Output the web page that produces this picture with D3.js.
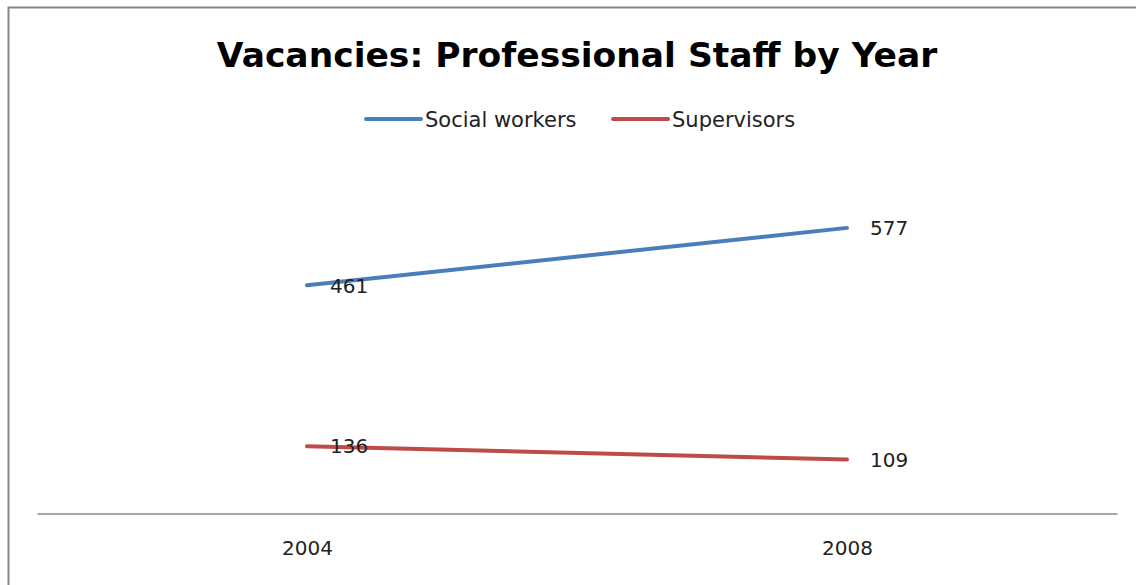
<!DOCTYPE html>
<html>
<head>
<meta charset="utf-8">
<script src="https://cdn.jsdelivr.net/npm/d3@7/dist/d3.min.js"></script>
<style>
  html, body { margin: 0; padding: 0; background: #fff; }
  svg { display: block; }
  text { font-family: "DejaVu Sans", "Open Sans", sans-serif; }
</style>
</head>
<body>
<svg id="chart" width="1136" height="585"></svg>
<script>
// Vacancies by year for two staff groups
const years = ["2004", "2008"];
const socialWorkers = [461, 577];
const supervisors = [136, 109];
const seriesNames = ["Social workers", "Supervisors"];
const seriesColors = ["#4a7ebb", "#be4b48"];
const titleText = "Vacancies: Professional Staff by Year";

const series = [
  { name: seriesNames[0], color: seriesColors[0], values: socialWorkers },
  { name: seriesNames[1], color: seriesColors[1], values: supervisors }
];

const svg = d3.select("#chart");

// outer chart frame (open at right and bottom edges)
svg.append("path")
  .attr("d", "M8.5,585 L8.5,7.5 L1136,7.5")
  .attr("fill", "none")
  .attr("stroke", "#878787")
  .attr("stroke-width", 2);

// title
svg.append("text")
  .attr("x", 577)
  .attr("y", 67)
  .attr("text-anchor", "middle")
  .attr("font-size", 34.5)
  .attr("font-weight", "bold")
  .attr("fill", "#000")
  .text(titleText);

// plot area
const plot = { left: 37, right: 1117, top: 167, bottom: 513.5 };

const x = d3.scalePoint()
  .domain(years)
  .range([plot.left, plot.right])
  .padding(0.5);

const y = d3.scaleLinear()
  .domain([0, 700])
  .range([plot.bottom, plot.top]);

// category axis
const xAxis = d3.axisBottom(x).tickSize(0).tickPadding(27);
const gx = svg.append("g")
  .attr("transform", `translate(0,${plot.bottom})`)
  .call(xAxis);
gx.select(".domain").attr("stroke", "#a6a6a6").attr("stroke-width", 2);
gx.selectAll(".tick text")
  .attr("font-size", 20)
  .attr("fill", "#222")
  .style("font-family", "'DejaVu Sans', sans-serif");

// series lines
const line = d3.line()
  .x((d, i) => x(years[i]))
  .y(d => y(d));

series.forEach(s => {
  svg.append("path")
    .datum(s.values)
    .attr("d", line)
    .attr("fill", "none")
    .attr("stroke", s.color)
    .attr("stroke-width", 4)
    .attr("stroke-linecap", "round");
});

// value labels to the right of each point
series.forEach(s => {
  svg.selectAll(null)
    .data(s.values)
    .enter()
    .append("text")
    .attr("x", (d, i) => x(years[i]) + 23)
    .attr("y", d => y(d))
    .attr("dy", "0.36em")
    .attr("font-size", 20)
    .attr("fill", "#222")
    .text(d => d);
});

// legend
const legendItems = [
  { name: seriesNames[0], color: seriesColors[0], x0: 366 },
  { name: seriesNames[1], color: seriesColors[1], x0: 613 }
];
const legendY = 119;
legendItems.forEach(item => {
  svg.append("line")
    .attr("x1", item.x0).attr("x2", item.x0 + 55)
    .attr("y1", legendY).attr("y2", legendY)
    .attr("stroke", item.color)
    .attr("stroke-width", 4)
    .attr("stroke-linecap", "round");
  svg.append("text")
    .attr("x", item.x0 + 59)
    .attr("y", legendY)
    .attr("dy", "0.36em")
    .attr("font-size", 21)
    .attr("fill", "#222")
    .text(item.name);
});
</script>
</body>
</html>
